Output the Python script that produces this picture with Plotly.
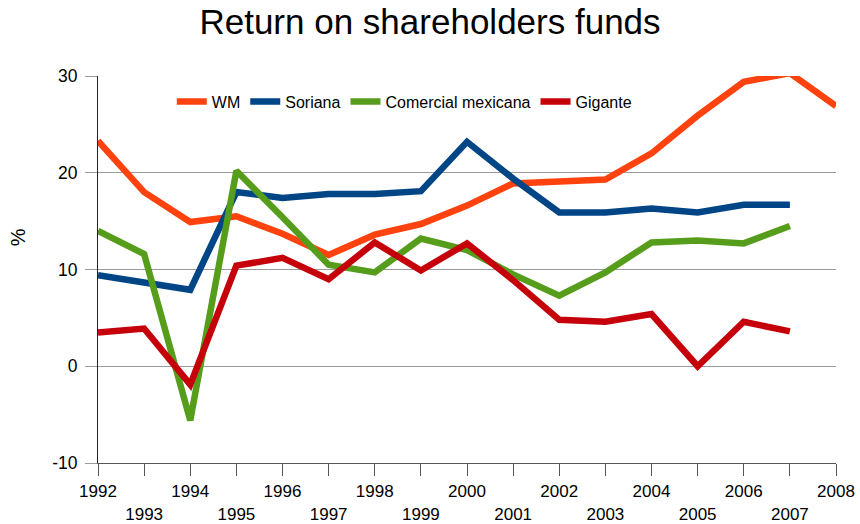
import plotly.graph_objects as go

years = list(range(1992, 2009))

wm = [23.3, 18.0, 14.9, 15.5, 13.7, 11.5, 13.6, 14.7, 16.6, 18.9, 19.1, 19.3, 22.0, 25.9, 29.4, 30.3, 26.9]
soriana = [9.4, 8.7, 7.9, 18.0, 17.4, 17.8, 17.8, 18.1, 23.2, 19.4, 15.9, 15.9, 16.3, 15.9, 16.7, 16.7, None]
comercial = [14.0, 11.6, -5.6, 20.2, 15.4, 10.5, 9.7, 13.2, 12.0, 9.5, 7.3, 9.7, 12.8, 13.0, 12.7, 14.5, None]
gigante = [3.5, 3.9, -1.9, 10.4, 11.2, 9.0, 12.8, 9.9, 12.7, 8.9, 4.8, 4.6, 5.4, 0.0, 4.6, 3.6, None]

y_ticks = [-10, 0, 10, 20, 30]

series = [
    ("WM", wm, "#ff420e"),
    ("Soriana", soriana, "#004586"),
    ("Comercial mexicana", comercial, "#579d1c"),
    ("Gigante", gigante, "#c5000b"),
]

# even years on the first row, odd years pushed down a line
tick_text = [str(y) if y % 2 == 0 else "<br>" + str(y) for y in years]

fig = go.Figure()
for name, vals, color in series:
    fig.add_trace(go.Scatter(
        x=years, y=vals, name=name, mode="lines",
        line=dict(color=color, width=6.5),
    ))

fig.update_layout(
    width=860, height=524,
    margin=dict(l=98, r=24, t=76, b=61),
    paper_bgcolor="white", plot_bgcolor="white",
    font=dict(family="Liberation Sans, Arial, sans-serif", size=17, color="#000"),
    title=dict(text="Return on shareholders funds", x=0.5, xanchor="center",
               y=0.958, yanchor="middle", font=dict(size=35)),
    showlegend=True,
    legend=dict(orientation="h", x=0.1, y=0.934, xanchor="left", yanchor="middle",
                bgcolor="rgba(0,0,0,0)", font=dict(size=16), itemwidth=30,
                tracegroupgap=0),
    # y axis title placed by hand
    annotations=[dict(text="%", xref="paper", yref="paper", x=-0.108, y=0.584,
                      xanchor="center", yanchor="middle", textangle=-90,
                      showarrow=False, font=dict(size=20))],
)
fig.update_xaxes(
    range=[1992, 2008], tickvals=years, ticktext=tick_text, automargin=False,
    showgrid=False, showline=True, linecolor="#555", linewidth=1,
    ticks="outside", ticklen=12, tickcolor="#555", tickfont=dict(size=17),
    ticklabelstandoff=1,
)
fig.update_yaxes(
    range=[-10, 30], tickvals=y_ticks, ticktext=[str(v) for v in y_ticks],
    automargin=False,
    showgrid=True, gridcolor="#9a9a9a", gridwidth=1, zeroline=False,
    showline=True, linecolor="#222", linewidth=1,
    ticks="outside", ticklen=12, tickcolor="#9a9a9a", tickfont=dict(size=17.5),
    ticklabelstandoff=4,
)

# drop the browser's default body margin so the figure fills the window
fig.write_html("out.html", config={"displayModeBar": False},
               post_script="document.body.style.margin = '0';")
